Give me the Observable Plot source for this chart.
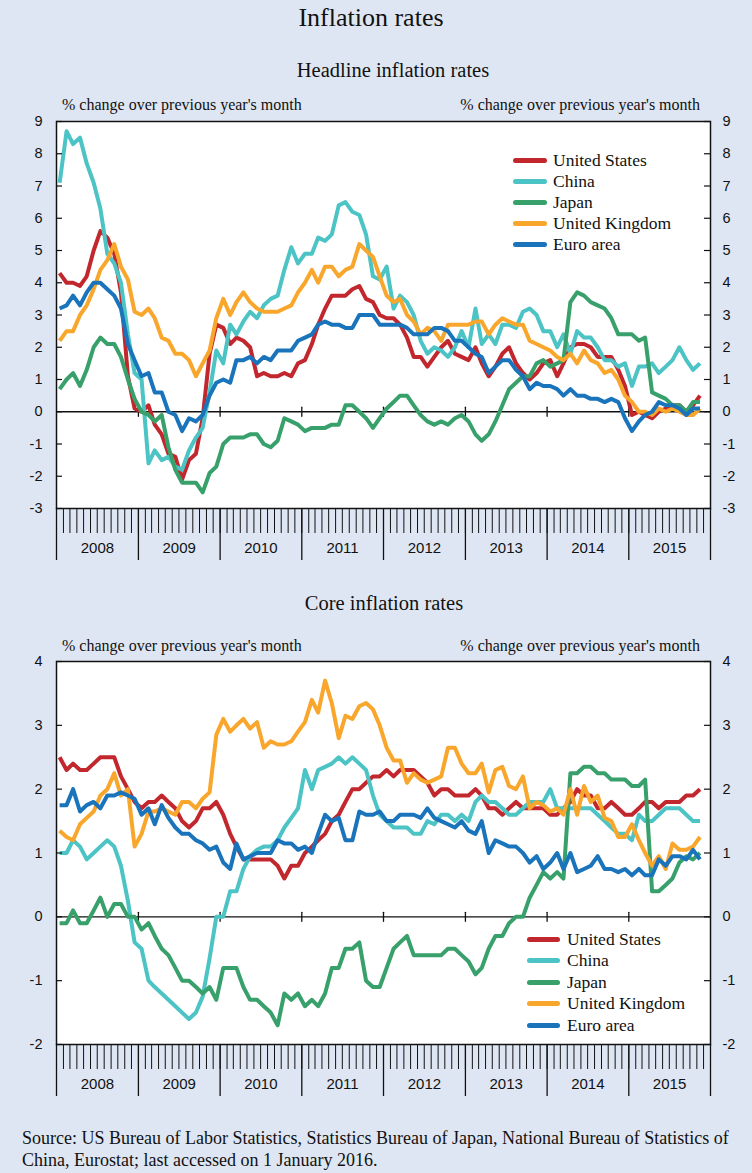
<!DOCTYPE html>
<html>
<head>
<meta charset="utf-8">
<script src="https://cdn.jsdelivr.net/npm/d3@7"></script>
<script src="https://cdn.jsdelivr.net/npm/@observablehq/plot@0.6"></script>
<style>
  html, body { margin: 0; padding: 0; background: #dfe6f3; }
  #page { position: relative; width: 752px; height: 1173px; background: #dfe6f3; overflow: hidden;
          font-family: "Liberation Serif", "Times New Roman", serif; color: #111; }
  .t { position: absolute; white-space: nowrap; line-height: 1; }
  .panel { position: absolute; left: 0; }
  .leg { position: absolute; font-family: "Liberation Serif", serif; font-size: 17.5px; color: #111; }
  .leg .row { position: absolute; left: 0; white-space: nowrap; height: 21px; }
  .leg .sw { position: absolute; left: 0; width: 34px; height: 5px; border-radius: 3px; }
  .leg .lb { position: absolute; top: 0; line-height: 1; }
</style>
</head>
<body>
<div id="page"></div>
<script>
// ---------------- data ----------------
const countries = ["United States", "China", "Japan", "United Kingdom", "Euro area"];
const colors = ["#c1272d", "#4cc3c4", "#38a06b", "#f9a62c", "#1a74bb"];
const years = [2008, 2009, 2010, 2011, 2012, 2013, 2014, 2015];
const headlineTicks = [-3, -2, -1, 0, 1, 2, 3, 4, 5, 6, 7, 8, 9];
const coreTicks = [-2, -1, 0, 1, 2, 3, 4];
const firstYear = 2008; // monthly observations from Jan 2008 to Nov 2015

// Headline inflation, % y/y, monthly from Jan 2008
const headlineUS = [
  4.3,4.0,4.0,3.9,4.2,5.0,5.6,5.4,4.9,3.7,1.1,0.1,
  0.0,0.2,-0.4,-0.7,-1.3,-1.4,-2.1,-1.5,-1.3,-0.2,1.8,2.7,
  2.6,2.1,2.3,2.2,2.0,1.1,1.2,1.1,1.1,1.2,1.1,1.5,
  1.6,2.1,2.7,3.2,3.6,3.6,3.6,3.8,3.9,3.5,3.4,3.0,
  2.9,2.9,2.7,2.3,1.7,1.7,1.4,1.7,2.0,2.2,1.8,1.7,
  1.6,2.0,1.5,1.1,1.4,1.8,2.0,1.5,1.2,1.0,1.2,1.5,
  1.6,1.1,1.5,2.0,2.1,2.1,2.0,1.7,1.7,1.7,1.3,0.8,
  -0.1,0.0,-0.1,-0.2,0.0,0.1,0.2,0.2,0.0,0.2,0.5];
const headlineChina = [
  7.1,8.7,8.3,8.5,7.7,7.1,6.3,4.9,4.6,4.0,2.4,1.2,
  1.0,-1.6,-1.2,-1.5,-1.4,-1.7,-1.8,-1.2,-0.8,-0.5,0.6,1.9,
  1.5,2.7,2.4,2.8,3.1,2.9,3.3,3.5,3.6,4.4,5.1,4.6,
  4.9,4.9,5.4,5.3,5.5,6.4,6.5,6.2,6.1,5.5,4.2,4.1,
  4.5,3.2,3.6,3.4,3.0,2.2,1.8,2.0,1.9,1.7,2.0,2.5,
  2.0,3.2,2.1,2.4,2.1,2.7,2.7,2.6,3.1,3.2,3.0,2.5,
  2.5,2.0,2.4,1.8,2.5,2.3,2.3,2.0,1.6,1.6,1.4,1.5,
  0.8,1.4,1.4,1.5,1.2,1.4,1.6,2.0,1.6,1.3,1.5];
const headlineJapan = [
  0.7,1.0,1.2,0.8,1.3,2.0,2.3,2.1,2.1,1.7,1.0,0.4,
  0.0,-0.1,-0.3,-0.1,-1.1,-1.8,-2.2,-2.2,-2.2,-2.5,-1.9,-1.7,
  -1.0,-0.8,-0.8,-0.8,-0.7,-0.7,-1.0,-1.1,-0.9,-0.2,-0.3,-0.4,
  -0.6,-0.5,-0.5,-0.5,-0.4,-0.4,0.2,0.2,0.0,-0.2,-0.5,-0.2,
  0.1,0.3,0.5,0.5,0.2,-0.1,-0.3,-0.4,-0.3,-0.4,-0.2,-0.1,
  -0.3,-0.7,-0.9,-0.7,-0.3,0.2,0.7,0.9,1.1,1.1,1.5,1.6,
  1.4,1.5,1.6,3.4,3.7,3.6,3.4,3.3,3.2,2.9,2.4,2.4,
  2.4,2.2,2.3,0.6,0.5,0.4,0.2,0.2,0.0,0.3,0.3];
const headlineUK = [
  2.2,2.5,2.5,3.0,3.3,3.8,4.4,4.7,5.2,4.5,4.1,3.1,
  3.0,3.2,2.9,2.3,2.2,1.8,1.8,1.6,1.1,1.5,1.9,2.9,
  3.5,3.0,3.4,3.7,3.4,3.2,3.1,3.1,3.1,3.2,3.3,3.7,
  4.0,4.4,4.0,4.5,4.5,4.2,4.4,4.5,5.2,5.0,4.8,4.2,
  3.6,3.4,3.5,3.0,2.8,2.4,2.6,2.5,2.2,2.7,2.7,2.7,
  2.7,2.8,2.8,2.4,2.7,2.9,2.8,2.7,2.7,2.2,2.1,2.0,
  1.9,1.7,1.6,1.8,1.5,1.9,1.6,1.5,1.2,1.3,1.0,0.5,
  0.3,0.0,0.0,-0.1,0.1,0.0,0.1,0.0,-0.1,-0.1,0.1];
const headlineEuro = [
  3.2,3.3,3.6,3.3,3.7,4.0,4.0,3.8,3.6,3.2,2.1,1.6,
  1.1,1.2,0.6,0.6,0.0,-0.1,-0.6,-0.2,-0.3,-0.1,0.5,0.9,
  1.0,0.9,1.6,1.6,1.7,1.5,1.7,1.6,1.9,1.9,1.9,2.2,
  2.3,2.4,2.7,2.8,2.7,2.7,2.6,2.6,3.0,3.0,3.0,2.7,
  2.7,2.7,2.7,2.6,2.4,2.4,2.4,2.6,2.6,2.5,2.2,2.2,
  2.0,1.8,1.7,1.2,1.4,1.6,1.6,1.3,1.1,0.7,0.9,0.8,
  0.8,0.7,0.5,0.7,0.5,0.5,0.4,0.4,0.3,0.4,0.3,-0.2,
  -0.6,-0.3,-0.1,0.0,0.3,0.2,0.2,0.1,-0.1,0.1,0.1];

// Core inflation, % y/y, monthly from Jan 2008
const coreUS = [
  2.5,2.3,2.4,2.3,2.3,2.4,2.5,2.5,2.5,2.2,2.0,1.8,
  1.7,1.8,1.8,1.9,1.8,1.7,1.5,1.4,1.5,1.7,1.7,1.8,
  1.6,1.3,1.1,0.9,0.9,0.9,0.9,0.9,0.8,0.6,0.8,0.8,
  1.0,1.1,1.2,1.3,1.5,1.6,1.8,2.0,2.0,2.1,2.2,2.2,
  2.3,2.2,2.3,2.3,2.3,2.2,2.1,1.9,2.0,2.0,1.9,1.9,
  1.9,2.0,1.9,1.7,1.7,1.6,1.7,1.8,1.7,1.7,1.7,1.7,
  1.6,1.6,1.7,1.8,2.0,1.9,1.9,1.7,1.7,1.8,1.7,1.6,
  1.6,1.7,1.8,1.8,1.7,1.8,1.8,1.8,1.9,1.9,2.0];
const coreChina = [
  1.0,1.0,1.2,1.1,0.9,1.0,1.1,1.2,1.1,0.8,0.25,-0.4,
  -0.5,-1.0,-1.1,-1.2,-1.3,-1.4,-1.5,-1.6,-1.5,-1.25,-0.65,0.0,
  0.0,0.4,0.4,0.75,0.95,1.05,1.1,1.1,1.2,1.4,1.55,1.7,
  2.3,2.0,2.3,2.35,2.4,2.5,2.4,2.5,2.4,2.3,1.9,1.6,
  1.5,1.4,1.4,1.4,1.3,1.3,1.5,1.45,1.6,1.6,1.5,1.6,
  1.5,1.8,1.9,1.8,1.8,1.7,1.6,1.6,1.7,1.8,1.8,1.8,
  2.0,1.7,1.7,1.7,1.7,1.7,1.7,1.6,1.5,1.4,1.3,1.3,
  1.2,1.6,1.5,1.5,1.6,1.7,1.7,1.7,1.6,1.5,1.5];
const coreJapan = [
  -0.1,-0.1,0.1,-0.1,-0.1,0.1,0.3,0.0,0.2,0.2,0.0,0.0,
  -0.2,-0.1,-0.3,-0.5,-0.6,-0.8,-1.0,-1.0,-1.1,-1.2,-1.1,-1.3,
  -0.8,-0.8,-0.8,-1.1,-1.3,-1.3,-1.4,-1.5,-1.7,-1.2,-1.3,-1.2,
  -1.4,-1.3,-1.4,-1.2,-0.8,-0.8,-0.5,-0.5,-0.4,-1.0,-1.1,-1.1,
  -0.8,-0.5,-0.4,-0.3,-0.6,-0.6,-0.6,-0.6,-0.6,-0.5,-0.5,-0.6,
  -0.7,-0.9,-0.8,-0.5,-0.3,-0.3,-0.1,0.0,0.0,0.3,0.5,0.7,
  0.6,0.7,0.6,2.25,2.25,2.35,2.35,2.25,2.25,2.15,2.15,2.15,
  2.05,2.05,2.15,0.4,0.4,0.5,0.6,0.85,0.95,0.9,1.0];
const coreUK = [
  1.35,1.25,1.2,1.45,1.55,1.65,1.9,2.0,2.25,1.9,2.0,1.1,
  1.3,1.65,1.65,1.7,1.65,1.6,1.8,1.8,1.7,1.85,1.95,2.85,
  3.1,2.9,3.0,3.1,2.95,3.05,2.65,2.75,2.7,2.7,2.75,2.9,
  3.05,3.4,3.2,3.7,3.35,2.8,3.15,3.1,3.3,3.35,3.25,3.0,
  2.65,2.45,2.45,2.1,2.25,2.15,2.1,2.15,2.2,2.65,2.65,2.4,
  2.25,2.25,2.4,1.95,2.3,2.35,2.05,2.0,2.2,1.7,1.8,1.75,
  1.65,1.7,1.6,2.0,1.6,2.05,1.8,1.9,1.55,1.5,1.25,1.25,
  1.45,1.2,1.0,0.8,0.95,0.75,1.15,1.05,1.05,1.1,1.25];
const coreEuro = [
  1.75,1.75,2.0,1.65,1.75,1.8,1.7,1.9,1.9,1.95,1.9,1.85,
  1.6,1.7,1.45,1.75,1.55,1.4,1.3,1.3,1.2,1.15,1.05,1.1,
  0.85,0.75,1.15,0.9,0.95,1.0,1.0,1.0,1.2,1.15,1.15,1.05,
  1.1,1.0,1.3,1.6,1.5,1.55,1.2,1.2,1.65,1.6,1.6,1.65,
  1.5,1.5,1.6,1.6,1.6,1.55,1.7,1.55,1.5,1.45,1.4,1.5,
  1.35,1.3,1.5,1.0,1.2,1.15,1.1,1.1,1.0,0.85,0.95,0.75,
  0.85,1.0,0.75,1.0,0.7,0.75,0.8,0.95,0.75,0.75,0.7,0.75,
  0.65,0.75,0.65,0.65,0.9,0.8,0.95,0.95,0.9,1.05,0.9];

const headlineSeries = [headlineUS, headlineChina, headlineJapan, headlineUK, headlineEuro];
const coreSeries = [coreUS, coreChina, coreJapan, coreUK, coreEuro];

// --------------- helpers ---------------
const page = document.getElementById("page");
const monthDate = i => new Date(Date.UTC(firstYear, i, 15));
function toTable(seriesList) {
  const rows = [];
  seriesList.forEach((arr, k) => arr.forEach((v, i) => rows.push({date: monthDate(i), value: v, country: countries[k]})));
  return rows;
}
const xStart = new Date(Date.UTC(years[0], 0, 1));
const xEnd = new Date(Date.UTC(years[years.length - 1] + 1, 0, 1));
const yearStarts = d3.utcYear.range(xStart, d3.utcDay.offset(xEnd, 1));       // 2008..2016 boundaries
const innerYearStarts = yearStarts.slice(1, -1);                               // 2009..2015
const yearMids = years.map(y => new Date(Date.UTC(y, 6, 2)));
const monthTicks = d3.utcMonth.range(xStart, d3.utcDay.offset(xEnd, 1));
const tickShape = { draw(context, l) { context.moveTo(0, 0); context.lineTo(0, -l); } };

function addText(txt, css) {
  const d = document.createElement("div");
  d.className = "t";
  d.textContent = txt;
  Object.assign(d.style, css);
  page.appendChild(d);
  return d;
}

const W = 752, ML = 56, MR = 42, innerW = W - ML - MR;

function panel(seriesList, yDomain, yTicks, top, height, marginBottom) {
  const data = toTable(seriesList);
  const chart = Plot.plot({
    width: W, height,
    marginLeft: ML, marginRight: MR, marginTop: 21, marginBottom,
    style: {background: "transparent", fontFamily: "'Liberation Sans', Arial, sans-serif", fontSize: "14.5px", color: "#111", overflow: "visible"},
    x: {type: "utc", domain: [xStart, xEnd], axis: null},
    y: {domain: yDomain, axis: null},
    color: {domain: countries, range: colors},
    marks: [
      Plot.frame({fill: "white"}),
      Plot.ruleY([0], {stroke: "#111", strokeWidth: 1.4}),
      Plot.vector(innerYearStarts, {x: d => d, y: () => 0, length: 9, rotate: 0, anchor: "middle", shape: tickShape, stroke: "#111", strokeWidth: 1.3}),
      Plot.line(data, {x: "date", y: "value", z: "country", stroke: "country", strokeWidth: 4, strokeLinejoin: "round", strokeLinecap: "butt"}),
      Plot.frame({stroke: "#111", strokeWidth: 1.5}),
      Plot.tickY(yTicks, {y: d => d, insetRight: innerW - 6, stroke: "#111", strokeWidth: 1.2}),
      Plot.tickY(yTicks, {y: d => d, insetLeft: innerW - 6, stroke: "#111", strokeWidth: 1.2}),
      Plot.axisY(yTicks, {anchor: "left", label: null, tickSize: 0, tickPadding: 14, tickFormat: d => String(d)}),
      Plot.axisY(yTicks, {anchor: "right", label: null, tickSize: 0, tickPadding: 12, tickFormat: d => String(d)}),
      Plot.axisX(monthTicks, {anchor: "bottom", label: null, tickSize: 25, text: null, stroke: "#111"}),
      Plot.axisX(yearStarts, {anchor: "bottom", label: null, tickSize: 52, text: null, stroke: "#111", strokeWidth: 1.3}),
      Plot.axisX(yearMids, {anchor: "bottom", label: null, tickSize: 0, tickPadding: 34, tickFormat: d => String(d.getUTCFullYear()), fontSize: 15})
    ]
  });
  chart.classList.add("panel");
  chart.style.top = top + "px";
  page.appendChild(chart);
}

function legend(left, top, rowGap, swW, textLeft) {
  const box = document.createElement("div");
  box.className = "leg";
  box.style.left = left + "px";
  box.style.top = top + "px";
  countries.forEach((c, i) => {
    const row = document.createElement("div");
    row.className = "row";
    row.style.top = (i * rowGap) + "px";
    const sw = document.createElement("div");
    sw.className = "sw";
    sw.style.background = colors[i];
    sw.style.width = swW + "px";
    sw.style.top = "-2.5px";
    const lb = document.createElement("div");
    lb.className = "lb";
    lb.style.left = textLeft + "px";
    lb.style.top = "-8.5px";
    lb.textContent = c;
    row.appendChild(sw); row.appendChild(lb);
    box.appendChild(row);
  });
  page.appendChild(box);
}

// --------------- titles ---------------
const units = "% change over previous year's month";
addText("Inflation rates", {left: "0px", width: "742px", textAlign: "center", top: "5px", fontSize: "26px"});
addText("Headline inflation rates", {left: "0px", width: "786px", textAlign: "center", top: "60px", fontSize: "20.5px"});
addText(units, {left: "62px", top: "97px", fontSize: "16px"});
addText(units, {right: "52px", top: "97px", fontSize: "16px"});

addText("Core inflation rates", {left: "0px", width: "768px", textAlign: "center", top: "593px", fontSize: "20.5px"});
addText(units, {left: "62px", top: "638px", fontSize: "16px"});
addText(units, {right: "52px", top: "638px", fontSize: "16px"});

// --------------- panels ---------------
panel(headlineSeries, [-3, 9], headlineTicks, 100, 470, 62);
panel(coreSeries, [-2, 4], coreTicks, 640, 470, 66);

legend(513, 160, 21, 34, 40);
legend(527, 939, 21.5, 33, 40);

// --------------- source ---------------
addText("Source: US Bureau of Labor Statistics, Statistics Bureau of Japan, National Bureau of Statistics of", {left: "22px", top: "1129px", fontSize: "18px"});
addText("China, Eurostat; last accessed on 1 January 2016.", {left: "22px", top: "1151px", fontSize: "18px"});
</script>
</body>
</html>
